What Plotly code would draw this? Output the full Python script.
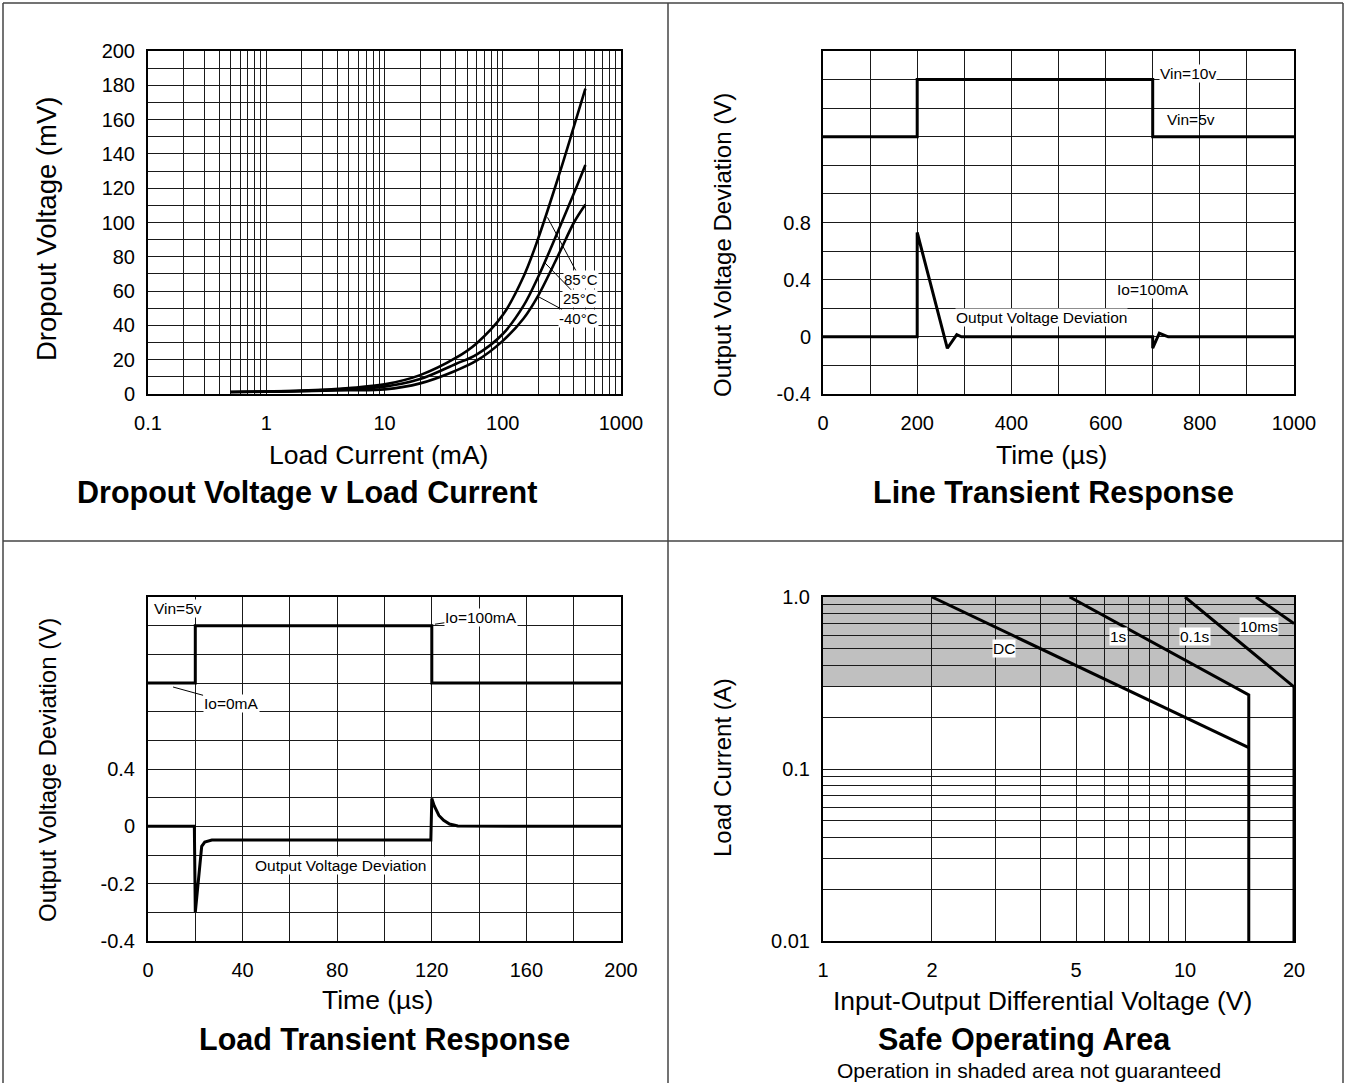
import numpy as np
import plotly.graph_objects as go

W, H = 1346, 1083
FONT = "Liberation Sans, Arial, sans-serif"
GRID = "#1a1a1a"

# ---------------- Panel 1: Dropout voltage vs load current ----------------
load_current_ma = [0.5, 1, 2, 5, 10, 20, 40, 60, 100, 150, 200, 300, 400, 500]
dropout_85c = [1.2, 1.5, 2.0, 3.5, 5.6, 11, 21, 29.5, 46, 68.5, 91, 128, 156, 178]
dropout_25c = [1.2, 1.4, 1.8, 3.0, 4.3, 8.7, 17.5, 23, 35, 51.5, 68.5, 96.5, 117, 133.5]
dropout_m40c = [1.2, 1.3, 1.6, 2.2, 2.7, 6.2, 13.6, 19.4, 31, 44, 57.5, 82, 100, 110.5]
p1_xticks = [0.1, 1, 10, 100, 1000]
p1_xticktext = ["0.1", "1", "10", "100", "1000"]
p1_yticks = list(range(0, 201, 20))

# ---------------- Panel 2: Line transient response ----------------
line_t_us = [0, 200, 200, 700, 700, 1000]
line_vin = [1.4, 1.4, 1.8, 1.8, 1.4, 1.4]
line_dev_t = [0, 200, 200, 264, 284, 294, 700, 700, 714, 733, 1000]
line_dev_v = [0, 0, 0.73, -0.08, 0.015, 0, 0, -0.08, 0.025, 0, 0]
p2_yticks = [-0.4, 0, 0.4, 0.8]
p2_yticktext = ["-0.4", "0", "0.4", "0.8"]

# ---------------- Panel 3: Load transient response ----------------
load_t_us = [0, 20, 20, 120, 120, 200]
load_io = [0.5, 0.5, 0.7, 0.7, 0.5, 0.5]
load_dev_t = [0, 19.6, 20, 22.7, 24, 27, 119.6, 120, 121, 122, 123, 125, 127.5, 131, 200]
load_dev_v = [0, 0, -0.3, -0.07, -0.055, -0.048, -0.048, 0.097, 0.072, 0.052, 0.038,
              0.021, 0.008, 0.001, 0]
p3_yticks = [-0.4, -0.2, 0, 0.2]
p3_yticktext = ["-0.4", "-0.2", "0", "0.4"]

# ---------------- Panel 4: Safe operating area ----------------
soa_dc_v, soa_dc_a = [2, 15], [1.0, 0.133]
soa_1s_v, soa_1s_a = [4.8, 15, 15], [1.0, 0.27, 0.01]
soa_01s_v, soa_01s_a = [10, 20, 20], [1.0, 0.3, 0.01]
soa_10ms_v, soa_10ms_a = [15.7, 20], [1.0, 0.7]
shade_low, shade_high = 0.3, 1.0
p4_xticks = [1, 2, 5, 10, 20]
p4_yticks = [0.01, 0.1, 1.0]
p4_yticktext = ["0.01", "0.1", "1.0"]


def fx(p):
    return p / W


def fy(p):
    return 1 - p / H


line_style = dict(color="black", width=3)
curve_style = dict(color="black", width=2.6, shape="spline", smoothing=1.0)
fig = go.Figure()

for ys in (dropout_85c, dropout_25c, dropout_m40c):
    fig.add_trace(go.Scatter(x=load_current_ma, y=ys, mode="lines", line=curve_style, xaxis="x", yaxis="y"))

fig.add_trace(go.Scatter(x=line_t_us, y=line_vin, mode="lines", line=line_style, xaxis="x2", yaxis="y2"))
fig.add_trace(go.Scatter(x=line_dev_t, y=line_dev_v, mode="lines", line=line_style, xaxis="x2", yaxis="y2"))

fig.add_trace(go.Scatter(x=load_t_us, y=load_io, mode="lines", line=line_style, xaxis="x3", yaxis="y3"))
fig.add_trace(go.Scatter(x=load_dev_t, y=load_dev_v, mode="lines", line=line_style, xaxis="x3", yaxis="y3"))

for xs, ys in [(soa_dc_v, soa_dc_a), (soa_1s_v, soa_1s_a), (soa_01s_v, soa_01s_a), (soa_10ms_v, soa_10ms_a)]:
    fig.add_trace(go.Scatter(x=xs, y=ys, mode="lines", line=line_style, xaxis="x4", yaxis="y4", cliponaxis=False))

common = dict(showline=True, mirror=True, linecolor="black", linewidth=2,
              showgrid=True, gridcolor=GRID, gridwidth=1, zeroline=False,
              ticks="outside", tickcolor="rgba(0,0,0,0)",
              tickfont=dict(size=20, color="black", family=FONT), automargin=False,
              fixedrange=True)

dom_x_left = [fx(148), fx(621)]
dom_x_right = [fx(823), fx(1294)]
dom_y_top = [fy(394), fy(51)]
dom_y_bot = [fy(941), fy(597)]

log_minor = [k * 10.0 ** e for e in range(-1, 3) for k in range(2, 10)]
soa_x_minor = [3, 4, 6, 7, 8, 9]
soa_y_minor = [k * 10.0 ** e for e in (-2, -1) for k in range(2, 10)]
mgrid = dict(showgrid=True, gridcolor=GRID, gridwidth=1)

fig.update_layout(
    width=W, height=H, margin=dict(l=0, r=0, t=0, b=0),
    paper_bgcolor="white", plot_bgcolor="white", showlegend=False,
    font=dict(family=FONT, color="black"),
    xaxis=dict(common, domain=dom_x_left, anchor="y", type="log", range=[-1, 3],
               tickvals=p1_xticks, ticktext=p1_xticktext, ticklen=10,
               minor=dict(mgrid, tickvals=log_minor)),
    yaxis=dict(common, domain=dom_y_top, anchor="x", range=[0, 200],
               tickvals=p1_yticks, ticklen=7,
               minor=dict(mgrid, tickmode="linear", tick0=0, dtick=10)),
    xaxis2=dict(common, domain=dom_x_right, anchor="y2", range=[0, 1000],
                tickmode="linear", tick0=0, dtick=200, ticklen=10,
                minor=dict(mgrid, tickmode="linear", tick0=0, dtick=100)),
    yaxis2=dict(common, domain=dom_y_top, anchor="x2", range=[-0.4, 2.0],
                tickvals=p2_yticks, ticktext=p2_yticktext, ticklen=6,
                minor=dict(mgrid, tickmode="linear", tick0=0, dtick=0.2)),
    xaxis3=dict(common, domain=dom_x_left, anchor="y3", range=[0, 200],
                tickmode="linear", tick0=0, dtick=40, ticklen=10,
                minor=dict(mgrid, tickmode="linear", tick0=0, dtick=20)),
    yaxis3=dict(common, domain=dom_y_bot, anchor="x3", range=[-0.4, 0.8],
                tickvals=p3_yticks, ticktext=p3_yticktext, ticklen=7,
                minor=dict(mgrid, tickmode="linear", tick0=0, dtick=0.1)),
    xaxis4=dict(common, domain=dom_x_right, anchor="y4", type="log", range=[0, np.log10(20)],
                tickvals=p4_xticks, ticktext=[str(v) for v in p4_xticks], ticklen=10,
                minor=dict(mgrid, tickvals=soa_x_minor)),
    yaxis4=dict(common, domain=dom_y_bot, anchor="x4", type="log", range=[-2, 0],
                tickvals=p4_yticks, ticktext=p4_yticktext, ticklen=7,
                minor=dict(mgrid, tickvals=soa_y_minor)),
)

# shaded area (below grid lines)
shapes = [dict(type="rect", xref="x4", yref="y4", x0=1, x1=20, y0=shade_low, y1=shade_high,
               fillcolor="#c0c0c0", line=dict(width=0), layer="below")]
# table borders
BORDER = dict(color="#444", width=1.5)
for xp in (3, 668, 1343):
    shapes.append(dict(type="line", xref="paper", yref="paper", x0=fx(xp), x1=fx(xp), y0=0, y1=fy(3), line=BORDER))
for yp in (3, 541):
    shapes.append(dict(type="line", xref="paper", yref="paper", x0=fx(3), x1=fx(1343), y0=fy(yp), y1=fy(yp), line=BORDER))
fig.update_layout(shapes=shapes)

ann = []


def ptext(text, xp, yp, size, bold=False, angle=0):
    ann.append(dict(text=("<b>%s</b>" % text) if bold else text, xref="paper", yref="paper",
                    x=fx(xp), y=fy(yp), xanchor="center", yanchor="middle", showarrow=False,
                    textangle=angle, font=dict(size=size, family=FONT, color="black")))


# axis titles and panel titles
ptext("Dropout Voltage (mV)", 47, 229, 27.5, angle=-90)
ptext("Load Current (mA)", 378, 455, 26.5)
ptext("Dropout Voltage v Load Current", 307, 492, 30.5, bold=True)
ptext("Output Voltage Deviation (V)", 722, 245, 24, angle=-90)
ptext("Time (µs)", 1051, 455, 26.5)
ptext("Line Transient Response", 1053, 492, 30.5, bold=True)
ptext("Output Voltage Deviation (V)", 47, 770, 24, angle=-90)
ptext("Time (µs)", 377, 1000, 26.5)
ptext("Load Transient Response", 384, 1039, 30.5, bold=True)
ptext("Load Current (A)", 722, 768, 24, angle=-90)
ptext("Input-Output Differential Voltage (V)", 1042, 1001, 26.5)
ptext("Safe Operating Area", 1024, 1039, 30.5, bold=True)
ptext("Operation in shaded area not guaranteed", 1029, 1070, 21)

SMALL = 15.5


def dtext(text, x, y, xref, yref, size=SMALL, bg="white"):
    ann.append(dict(text=text, xref=xref, yref=yref, x=x, y=y, showarrow=False,
                    xanchor="center", yanchor="middle", bgcolor=bg, borderpad=0,
                    font=dict(size=size, family=FONT, color="black")))


def lead(text, x, y, xref, yref, ax, ay, size=SMALL):
    ann.append(dict(text=text, xref=xref, yref=yref, x=x, y=y, showarrow=True,
                    arrowhead=0, arrowwidth=1, arrowcolor="black", ax=ax, ay=ay,
                    bgcolor="white", borderpad=0,
                    font=dict(size=size, family=FONT, color="black")))


# panel 1 curve labels (log axis -> log10 x)
lead("85°C", np.log10(239), 103, "x", "y", 33, 62, size=15)
lead("25°C", np.log10(227), 76.5, "x", "y", 35, 36, size=15)
lead("-40°C", np.log10(197), 57, "x", "y", 41, 22, size=15)

# panel 2 labels
dtext("Vin=10v", 775, 1.84, "x2", "y2")
dtext("Vin=5v", 781, 1.52, "x2", "y2", bg="rgba(0,0,0,0)")
dtext("Io=100mA", 700, 0.33, "x2", "y2")
dtext("Output Voltage Deviation", 463, 0.133, "x2", "y2")

# panel 3 labels
dtext("Vin=5v", 12.7, 0.761, "x3", "y3")
lead("Io=100mA", 121.3, 0.705, "x3", "y3", 46, -7)
lead("Io=0mA", 10.6, 0.486, "x3", "y3", 58, 16)
dtext("Output Voltage Deviation", 81.2, -0.138, "x3", "y3")

# panel 4 labels (log axes -> log10 coordinates)
dtext("DC", 0.4996, np.log10(0.5), "x4", "y4")
dtext("1s", 0.815, -0.227, "x4", "y4")
dtext("0.1s", 1.028, -0.227, "x4", "y4")
dtext("10ms", 1.204, -0.174, "x4", "y4")

fig.update_layout(annotations=ann)

fig.write_html("out.html", config={"displayModeBar": False},
               post_script="document.body.style.margin='0';")
